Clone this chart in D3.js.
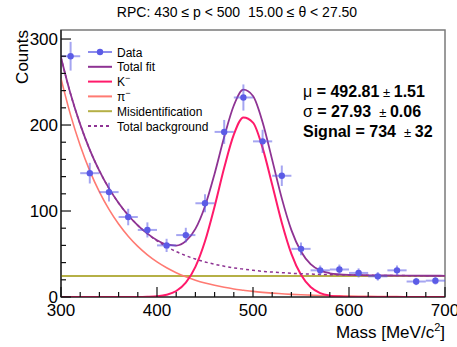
<!DOCTYPE html>
<html>
<head>
<meta charset="utf-8">
<script src="https://cdn.jsdelivr.net/npm/d3@7"></script>
<style>
  html, body { margin: 0; padding: 0; background: #fff; }
  svg { display: block; font-family: "Liberation Sans", Arial, Helvetica, sans-serif; }
  text { white-space: pre; }
</style>
</head>
<body>
<svg id="chart" width="457" height="347"></svg>
<script>
// ── Data ─────────────────────────────────────────────────────────────────────
const binCenters = [310, 330, 350, 370, 390, 410, 430, 450, 470, 490,
                    510, 530, 550, 570, 590, 610, 630, 650, 670, 690];
const counts     = [280, 144, 122, 93, 78, 60, 72, 109, 192, 232,
                    181, 141, 56, 31, 32, 28, 24, 31, 18, 19];
const countErr   = [16.7, 12, 11, 9.6, 8.8, 7.7, 8.5, 10.4, 13.9, 15.2,
                    13.5, 11.9, 7.5, 5.6, 5.7, 5.3, 4.9, 5.6, 4.2, 4.4];
const binHalfW   = 10;

// curve samples, every 10 MeV from 300 to 700
const curveX = [300, 310, 320, 330, 340, 350, 360, 370, 380, 390,
                400, 410, 420, 430, 440, 450, 460, 470, 480, 490,
                500, 510, 520, 530, 540, 550, 560, 570, 580, 590,
                600, 610, 620, 630, 640, 650, 660, 670, 680, 690, 700];
const kaon   = [0, 0, 0, 0, 0, 0, 0, 0, 0, 0.2,
                0.8, 2.6, 7.0, 16.8, 35.1, 64.8, 105.3, 150.3, 188.8, 208.7,
                202.8, 173.4, 130.5, 86.4, 50.2, 25.8, 11.6, 4.6, 1.6, 0.5,
                0.1, 0, 0, 0, 0, 0, 0, 0, 0, 0, 0];
const pion   = [254, 211.5, 176.2, 146.7, 122.2, 101.8, 84.8, 70.6, 58.8, 49.0,
                40.8, 34.0, 28.3, 23.6, 19.6, 16.3, 13.6, 11.3, 9.4, 7.9,
                6.5, 5.4, 4.5, 3.8, 3.1, 2.6, 2.2, 1.8, 1.5, 1.3,
                1.05, 0.87, 0.73, 0.61, 0.51, 0.42, 0.35, 0.29, 0.24, 0.20, 0.17];
const misidLevel = 24.5;

const xTicks = [300, 400, 500, 600, 700];
const yTicks = [0, 100, 200, 300];

const legendLabels = ["Data", "Total fit", "K", "\u03c0", "Misidentification", "Total background"];

// ── Layout / style ───────────────────────────────────────────────────────────
const L = 61, R = 445, T = 30, B = 297;
const C_DATA  = "#5b5be6";
const C_TOTAL = "#8e3393";
const C_KAON  = "#ff1a6a";
const C_PION  = "#ff7a72";
const C_MISID = "#b5b046";
const FONT_AX = 17;

const svg = d3.select("#chart");

const x = d3.scaleLinear().domain([300, 700]).range([L, R]);
const y = d3.scaleLinear().domain([0, 310.5]).range([B, T]);

svg.append("defs").append("clipPath").attr("id", "plotClip")
  .append("rect").attr("x", L).attr("y", T).attr("width", R - L).attr("height", B - T);

// frame
svg.append("rect")
  .attr("x", L).attr("y", T).attr("width", R - L).attr("height", B - T)
  .attr("fill", "none").attr("stroke", "#7a7a7a").attr("stroke-width", 1.5);

// ── Curves ───────────────────────────────────────────────────────────────────
const misid   = curveX.map(() => misidLevel);
const bkg     = curveX.map((_, i) => pion[i] + misid[i]);
const total   = curveX.map((_, i) => kaon[i] + bkg[i]);

const line = d3.line()
  .x(d => x(d[0]))
  .y(d => y(d[1]))
  .curve(d3.curveMonotoneX);

const zipX = vals => curveX.map((v, i) => [v, vals[i]]);

const curves = svg.append("g").attr("clip-path", "url(#plotClip)");
curves.append("path").attr("d", line(zipX(misid)))
  .attr("fill", "none").attr("stroke", C_MISID).attr("stroke-width", 2);
curves.append("path").attr("d", line(zipX(pion)))
  .attr("fill", "none").attr("stroke", C_PION).attr("stroke-width", 1.6);
curves.append("path").attr("d", line(zipX(kaon)))
  .attr("fill", "none").attr("stroke", C_KAON).attr("stroke-width", 2);
curves.append("path").attr("d", line(zipX(bkg)))
  .attr("fill", "none").attr("stroke", C_TOTAL).attr("stroke-width", 1.5)
  .attr("stroke-dasharray", "3,3");
curves.append("path").attr("d", line(zipX(total)))
  .attr("fill", "none").attr("stroke", C_TOTAL).attr("stroke-width", 1.8);

// ── Data points ──────────────────────────────────────────────────────────────
const pts = svg.append("g");
binCenters.forEach((bx, i) => {
  const g = pts.append("g");
  g.append("line")
    .attr("x1", x(bx - binHalfW)).attr("x2", x(bx + binHalfW))
    .attr("y1", y(counts[i])).attr("y2", y(counts[i]))
    .attr("stroke", C_DATA).attr("stroke-opacity", 0.55).attr("stroke-width", 2);
  g.append("line")
    .attr("x1", x(bx)).attr("x2", x(bx))
    .attr("y1", y(counts[i] - countErr[i])).attr("y2", y(counts[i] + countErr[i]))
    .attr("stroke", C_DATA).attr("stroke-opacity", 0.55).attr("stroke-width", 2);
  g.append("circle")
    .attr("cx", x(bx)).attr("cy", y(counts[i])).attr("r", 3.2)
    .attr("fill", C_DATA);
});

// ── Axes (ticks inward, ROOT style) ─────────────────────────────────────────
const axG = svg.append("g");
axG.append("line").attr("x1", L).attr("x2", L).attr("y1", T).attr("y2", B)
  .attr("stroke", "#111").attr("stroke-width", 1.2);
axG.append("line").attr("x1", L).attr("x2", R).attr("y1", B).attr("y2", B)
  .attr("stroke", "#111").attr("stroke-width", 1.2);

d3.range(300, 701, 20).forEach(v => {
  const major = v % 100 === 0;
  axG.append("line")
    .attr("x1", x(v)).attr("x2", x(v))
    .attr("y1", B).attr("y2", B - (major ? 10 : 5))
    .attr("stroke", "#111").attr("stroke-width", 1.2);
});
d3.range(0, 311, 20).forEach(v => {
  const major = v % 100 === 0;
  axG.append("line")
    .attr("x1", L).attr("x2", L + (major ? 10 : 5))
    .attr("y1", y(v)).attr("y2", y(v))
    .attr("stroke", "#111").attr("stroke-width", 1.2);
});

xTicks.forEach(v => {
  axG.append("text")
    .attr("x", x(v)).attr("y", B + 19)
    .attr("text-anchor", "middle").attr("font-size", FONT_AX).attr("fill", "#000")
    .text(v);
});
yTicks.forEach(v => {
  axG.append("text")
    .attr("x", L - 3).attr("y", y(v) + 6)
    .attr("text-anchor", "end").attr("font-size", FONT_AX).attr("fill", "#000")
    .text(v);
});

// axis titles
const xt = svg.append("text")
  .attr("x", R).attr("y", 338).attr("text-anchor", "end")
  .attr("font-size", 17).attr("fill", "#000");
xt.append("tspan").text("Mass [MeV/c");
xt.append("tspan").attr("font-size", 11).attr("dy", -7).text("2");
xt.append("tspan").attr("dy", 7).text("]");

svg.append("text")
  .attr("transform", `translate(28, ${T}) rotate(-90)`)
  .attr("text-anchor", "end").attr("font-size", 17).attr("fill", "#000")
  .text("Counts");

// title
svg.append("text")
  .attr("x", 237).attr("y", 17).attr("text-anchor", "middle")
  .attr("font-size", 14).attr("fill", "#000")
  .text("RPC: 430 \u2264 p < 500  15.00 \u2264 \u03b8 < 27.50");

// ── Legend ───────────────────────────────────────────────────────────────────
const lg = svg.append("g");
const lx0 = 88, lx1 = 112, ltx = 117, ly0 = 52, ldy = 14.8;
legendLabels.forEach((lab, i) => {
  const yy = ly0 + i * ldy;
  if (i === 0) {
    lg.append("line").attr("x1", lx0).attr("x2", lx1).attr("y1", yy).attr("y2", yy)
      .attr("stroke", C_DATA).attr("stroke-opacity", 0.7).attr("stroke-width", 2);
    lg.append("circle").attr("cx", (lx0 + lx1) / 2).attr("cy", yy).attr("r", 3.2).attr("fill", C_DATA);
  } else {
    const col = [null, C_TOTAL, C_KAON, C_PION, C_MISID, C_TOTAL][i];
    lg.append("line").attr("x1", lx0).attr("x2", lx1).attr("y1", yy).attr("y2", yy)
      .attr("stroke", col).attr("stroke-width", 2)
      .attr("stroke-dasharray", i === 5 ? "3,3" : null);
  }
  const t = lg.append("text").attr("x", ltx).attr("y", yy + 4.5)
    .attr("font-size", 12).attr("fill", "#000");
  t.append("tspan").text(lab);
  if (i === 2 || i === 3) {
    t.append("tspan").attr("font-size", 9).attr("dy", -5).text("\u2212");
  }
});

// ── Fit results ──────────────────────────────────────────────────────────────
const fitRows = [
  ["\u03bc", " = 492.81", "1.51"],
  ["\u03c3", " = 27.93 ", "0.06"],
  ["Signal", " = 734 ", "32"]
];
fitRows.forEach((r, i) => {
  const t = svg.append("text").attr("x", 303).attr("y", 96.5 + i * 20)
    .attr("font-size", 16).attr("fill", "#000");
  t.append("tspan").attr("font-weight", i === 2 ? "bold" : "normal").text(r[0]);
  t.append("tspan").attr("font-weight", "bold").text(r[1]);
  t.append("tspan").attr("font-size", 13).text(" \u00b1 ");
  t.append("tspan").attr("font-weight", "bold").text(r[2]);
});
</script>
</body>
</html>
